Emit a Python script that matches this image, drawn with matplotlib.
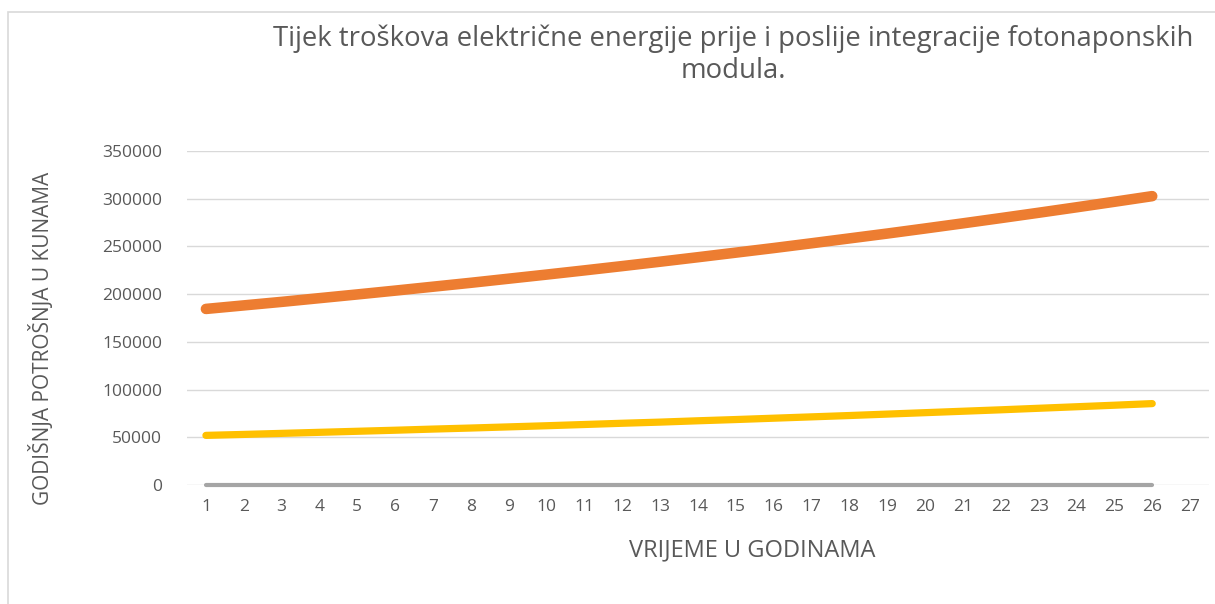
import matplotlib.pyplot as plt
from matplotlib.patches import Rectangle

# godine (kategorije) i vrijednosti ocitane sa slike
years = list(range(1, 28))
prije = [184500, 188200, 191900, 195800, 199700, 203700, 207800, 211900, 216200,
         220500, 224900, 229400, 234000, 238700, 243500, 248300, 253300, 258400,
         263500, 268800, 274200, 279700, 285300, 291000, 296800, 302700]
poslije = [52000, 53000, 54100, 55200, 56300, 57400, 58600, 59700, 60900, 62100,
           63400, 64700, 65900, 67300, 68600, 70000, 71400, 72800, 74300, 75800,
           77300, 78800, 80400, 82000, 83600, 85300]
nula = [0] * 26
y_ticks = [0, 50000, 100000, 150000, 200000, 250000, 300000, 350000]

plt.rcParams['font.family'] = ['Open Sans', 'DejaVu Sans']
txt = '#595959'

fig = plt.figure(figsize=(12.15, 6.04), dpi=100)
fig.patches.append(Rectangle((8 / 1215, -0.1), 1.2, 1.1 - 12 / 604,
                             transform=fig.transFigure, fill=False,
                             edgecolor='#d9d9d9', linewidth=1.2))

ax = fig.add_axes([187 / 1215, 1 - 485 / 604, (1209 - 187) / 1215, (485 - 151) / 604])

x = years[:26]
ax.plot(x, nula, color='#a5a5a5', linewidth=3, solid_capstyle='round', zorder=3, clip_on=False)
ax.plot(x, poslije, color='#ffc000', linewidth=5.2, solid_capstyle='round', zorder=3)
ax.plot(x, prije, color='#ed7d31', linewidth=7.6, solid_capstyle='round', zorder=3)

ax.set_xlim(0.5, 27.5)
ax.set_ylim(0, 350000)
ax.set_xticks(years)
ax.set_yticks(y_ticks)
ax.yaxis.grid(True, color='#d9d9d9', linewidth=1)
ax.set_axisbelow(True)
for s in ax.spines.values():
    s.set_visible(False)
ax.tick_params(length=0, labelsize=12.5, labelcolor=txt)
ax.tick_params(axis='y', pad=18)
ax.tick_params(axis='x', pad=10)

fig.text(42 / 1215, 1 - 338 / 604, 'GODIŠNJA POTROŠNJA U KUNAMA', rotation=90,
         ha='center', va='center', fontsize=15, color=txt)
fig.text(752 / 1215, 1 - 550 / 604, 'VRIJEME U GODINAMA',
         ha='center', va='center', fontsize=17, color=txt)

fig.text(733 / 1215, 1 - 55 / 604,
         'Tijek troškova električne energije prije i poslije integracije fotonaponskih\nmodula.',
         ha='center', va='center', fontsize=19.8, color=txt, linespacing=1.2)

fig.savefig('out.png', dpi=100)
